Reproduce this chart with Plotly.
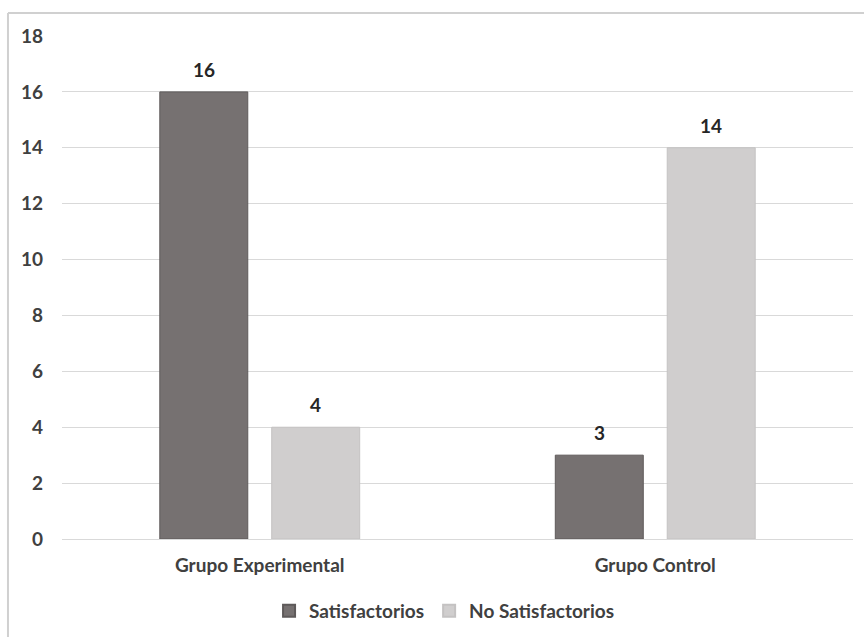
import plotly.graph_objects as go

categories = ["Grupo Experimental", "Grupo Control"]
satisfactorios = [16, 3]
no_satisfactorios = [4, 14]
tick_vals = [0, 2, 4, 6, 8, 10, 12, 14, 16, 18]

font_fam = "Lato, 'Open Sans', sans-serif"

series = [
    ("Satisfactorios", satisfactorios, "#767171", "#5e5a5a", -56),
    ("No Satisfactorios", no_satisfactorios, "#d0cece", "#c4c2c2", 56),
]

fig = go.Figure()
annotations = []
for name, vals, col, lcol, shift in series:
    fig.add_trace(go.Bar(
        name=name, x=categories, y=vals,
        marker=dict(color=col, line=dict(color=lcol, width=1)),
    ))
    for c, v in zip(categories, vals):
        annotations.append(dict(
            x=c, y=v, xref="x", yref="y", text=str(v), showarrow=False,
            xshift=shift, yshift=9, yanchor="bottom",
            font=dict(size=19, color="#262626", family=font_fam, weight="bold"),
        ))

fig.update_layout(
    width=864, height=637,
    margin=dict(l=62, r=11, t=36, b=98, autoexpand=False),
    paper_bgcolor="white", plot_bgcolor="white",
    barmode="group", bargap=0.434, bargroupgap=0.214,
    font=dict(family=font_fam, color="#404040"),
    showlegend=True,
    legend=dict(orientation="h", x=0.483, xanchor="center", yref="container", y=0.041,
                yanchor="middle",
                font=dict(size=19, color="#404040", weight="bold"),
                itemwidth=30, itemsizing="constant", tracegroupgap=0),
    xaxis=dict(showgrid=False, showline=True, linecolor="#d9d9d9", linewidth=1,
               tickfont=dict(size=19, color="#404040", weight="bold"), ticks="",
               ticklabelstandoff=9),
    yaxis=dict(range=[0, 18], tickvals=tick_vals, showgrid=True, gridcolor="#d9d9d9",
               gridwidth=1, zeroline=False, showline=False, ticks="",
               tickfont=dict(size=19, color="#404040", weight="bold"), ticklabelstandoff=18),
    annotations=annotations,
    shapes=[
        dict(type="line", xref="paper", yref="paper", x0=-0.0683, x1=1.02, y0=1.0457, y1=1.0457,
             line=dict(color="#d0d0d0", width=2)),
        dict(type="line", xref="paper", yref="paper", x0=-0.0683, x1=-0.0683, y0=1.0457, y1=-0.2,
             line=dict(color="#d0d0d0", width=2)),
    ],
)

fig.write_html("out.html")
